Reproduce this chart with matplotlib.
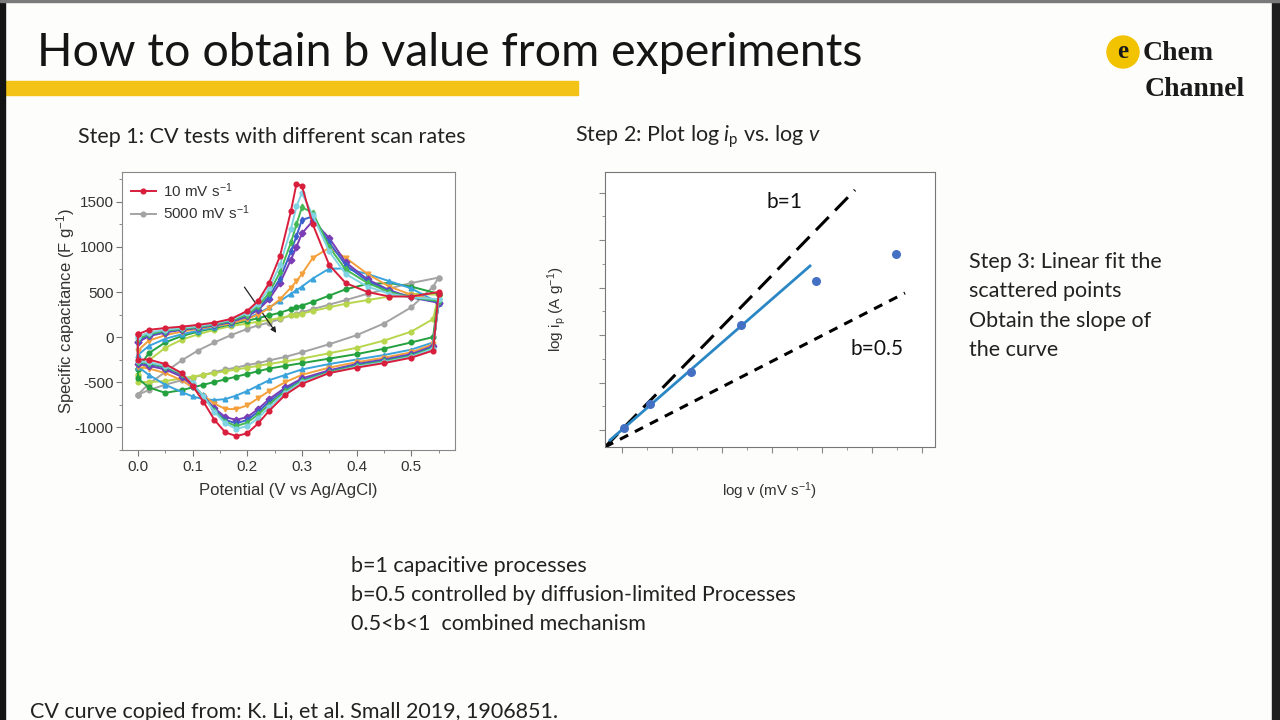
import numpy as np
import matplotlib.pyplot as plt
from matplotlib.patches import Rectangle, Ellipse
from matplotlib.ticker import MultipleLocator

plt.rcParams['mathtext.fontset'] = 'custom'
plt.rcParams['mathtext.rm'] = 'Lato'
plt.rcParams['mathtext.it'] = 'Lato:italic'
plt.rcParams['axes.unicode_minus'] = False

# ---------------- CV curves ----------------
E_fwd = [0.0, 0.02, 0.05, 0.08, 0.11, 0.14, 0.17, 0.20, 0.22, 0.24, 0.26,
         0.28, 0.29, 0.30, 0.32, 0.35, 0.38, 0.42, 0.46, 0.50, 0.55]
E_rev = [0.55, 0.54, 0.50, 0.45, 0.40, 0.35, 0.30, 0.27, 0.24, 0.22, 0.20,
         0.18, 0.16, 0.14, 0.12, 0.10, 0.08, 0.05, 0.02, 0.0]

cap_fwd = [
    [30, 80, 100, 115, 135, 160, 200, 290, 400, 600, 900, 1400, 1700, 1680, 1250, 800, 600, 500, 450, 450, 500],
    [0, 50, 80, 100, 120, 150, 190, 270, 370, 540, 800, 1200, 1450, 1600, 1350, 950, 700, 560, 480, 440, 420],
    [-20, 30, 70, 90, 110, 140, 180, 250, 340, 490, 720, 1050, 1250, 1440, 1380, 1000, 750, 600, 500, 440, 400],
    [-40, 20, 60, 85, 105, 135, 170, 240, 320, 450, 650, 950, 1120, 1300, 1340, 1050, 800, 620, 510, 440, 390],
    [-60, 10, 50, 80, 100, 130, 165, 230, 300, 420, 600, 860, 1000, 1150, 1290, 1100, 830, 640, 520, 440, 380],
    [-150, -40, 20, 60, 90, 120, 150, 200, 250, 320, 420, 550, 620, 700, 880, 990, 880, 700, 560, 470, 400],
    [-200, -100, -20, 30, 70, 110, 150, 210, 260, 330, 400, 480, 520, 560, 650, 760, 760, 700, 620, 540, 380],
    [-350, -180, -60, 10, 60, 100, 140, 180, 210, 240, 270, 310, 330, 350, 390, 460, 530, 590, 600, 560, 480],
    [-420, -260, -120, -30, 30, 80, 120, 150, 170, 190, 210, 240, 250, 260, 290, 330, 370, 410, 450, 480, 470],
    [-640, -520, -390, -260, -150, -60, 20, 90, 130, 160, 200, 240, 255, 275, 310, 360, 410, 480, 540, 600, 660],
]
cap_rev = [
    [480, -150, -230, -290, -340, -400, -520, -640, -820, -960, -1070, -1100, -1060, -920, -720, -540, -400, -300, -250, -250],
    [420, -130, -220, -280, -330, -400, -500, -620, -780, -900, -990, -1020, -960, -830, -660, -510, -400, -320, -280, -270],
    [400, -120, -210, -270, -320, -390, -490, -600, -750, -860, -950, -990, -940, -820, -660, -520, -410, -330, -290, -280],
    [390, -110, -200, -260, -310, -380, -480, -580, -720, -830, -920, -960, -920, -810, -660, -530, -420, -340, -300, -290],
    [380, -100, -190, -250, -300, -370, -460, -560, -690, -800, -890, -920, -890, -790, -660, -540, -440, -360, -320, -300],
    [400, -80, -170, -230, -280, -340, -420, -500, -600, -680, -760, -800, -800, -740, -650, -560, -480, -400, -350, -330],
    [380, -60, -140, -200, -250, -300, -360, -420, -480, -540, -600, -650, -690, -700, -690, -660, -610, -530, -420, -330],
    [480, 0, -60, -130, -190, -240, -290, -320, -350, -380, -410, -440, -470, -500, -530, -560, -590, -620, -560, -460],
    [470, 200, 60, -40, -120, -180, -240, -270, -300, -320, -340, -360, -380, -400, -420, -440, -460, -490, -500, -500],
    [660, 560, 330, 150, 20, -80, -170, -220, -260, -290, -310, -340, -360, -390, -420, -450, -480, -530, -590, -640],
]
cv_colors = ['#d81e3c', '#7fd3e3', '#45b955', '#3d5fcc', '#7b3db4',
             '#f4a03c', '#3aa3dc', '#23a13e', '#b7d64c', '#a3a3a3']
cv_markers = ['o', 'o', 'd', 'd', 'D', 'v', '^', 'o', 'o', 'o']
cv_labels = ['10 mV s$\\mathregular{^{-1}}$', None, None, None, None,
             None, None, None, None, '5000 mV s$\\mathregular{^{-1}}$']

# ---------------- log ip vs log v sketch ----------------
logv = [0.19, 0.45, 0.86, 1.36, 2.11, 2.91]
logip = [0.19, 0.43, 0.75, 1.22, 1.66, 1.93]
b1_x, b1_y = [0.0, 2.5], [0.0, 2.57]
b05_x, b05_y = [0.0, 3.0], [0.0, 1.54]
fit_range = [0.05, 2.05]

step3_lines = ['Step 3: Linear fit the', 'scattered points', 'Obtain the slope of', 'the curve']
notes = ['b=1 capacitive processes',
         'b=0.5 controlled by diffusion-limited Processes',
         '0.5<b<1  combined mechanism']

W, H = 1280, 720
def fx(px):
    return px / W
def fy(py):
    return 1 - py / H

fig = plt.figure(figsize=(12.8, 7.2), dpi=100, facecolor='#fdfdfc')

# slide frame
fig.patches.append(Rectangle((0, 0), fx(5), 1, transform=fig.transFigure, color='#141414', zorder=5))
fig.patches.append(Rectangle((fx(1272), 0), fx(8), 1, transform=fig.transFigure, color='#1e1e1e', zorder=5))
fig.patches.append(Rectangle((0, fy(2)), 1, 2 / H, transform=fig.transFigure, color='#7a7a7a', zorder=5))

# title + yellow bar
fig.text(fx(37), fy(53), 'How to obtain b value from experiments', fontsize=33.5,
         family='Lato', color='#151515', va='center')
fig.patches.append(Rectangle((fx(5), fy(95)), fx(573), 14 / H, transform=fig.transFigure,
                             color='#f3c317', zorder=4))

# logo
fig.patches.append(Ellipse((fx(1123), fy(52)), 32 / W, 32 / H, transform=fig.transFigure,
                           color='#f2c300', zorder=4))
fig.text(fx(1123), fy(51), 'e', fontsize=18, family='Liberation Serif', weight='bold',
         ha='center', va='center', color='#1a1a1a', zorder=6)
fig.text(fx(1143), fy(53), 'Chem', fontsize=20, family='Liberation Serif', weight='bold',
         va='center', color='#1a1a1a')
fig.text(fx(1145), fy(89), 'Channel', fontsize=20, family='Liberation Serif', weight='bold',
         va='center', color='#1a1a1a')

body = dict(family='Lato', color='#222222', fontsize=15.5, va='center')
fig.text(fx(78), fy(137), 'Step 1: CV tests with different scan rates', **body)
fig.text(fx(575), fy(137), 'Step 2: Plot log $\\mathit{i}_{\\mathregular{p}}$ vs. log $\\mathit{v}$', **body)
for i, line in enumerate(step3_lines):
    fig.text(fx(969), fy(262 + 29.3 * i), line, **body)
for i, line in enumerate(notes):
    fig.text(fx(351), fy(566 + 29 * i), line, **body)
fig.text(fx(30), fy(712), 'CV curve copied from: K. Li, et al. Small 2019, 1906851.', **body)

# ---------------- CV panel ----------------
ax1 = fig.add_axes([fx(122), fy(450), (455 - 122) / W, (450 - 172) / H])
for k in range(len(cap_fwd)):
    xs = E_fwd + E_rev + [E_fwd[0]]
    ys = cap_fwd[k] + cap_rev[k] + [cap_fwd[k][0]]
    ax1.plot(xs, ys, color=cv_colors[k], marker=cv_markers[k], ms=3.4, lw=1.4,
             label=cv_labels[k], zorder=10 - k)
ax1.annotate('', xy=(0.256, 20), xytext=(0.192, 580),
             arrowprops=dict(arrowstyle='-|>', color='#222222', lw=0.9, mutation_scale=8))
ax1.set_xlim(-0.029, 0.58)
ax1.set_ylim(-1255, 1833)
ax1.xaxis.set_major_locator(MultipleLocator(0.1))
ax1.xaxis.set_minor_locator(MultipleLocator(0.05))
ax1.yaxis.set_major_locator(MultipleLocator(500))
ax1.yaxis.set_minor_locator(MultipleLocator(250))
ax1.tick_params(which='both', direction='out', color='#777777', labelcolor='#333333', labelsize=11)
ax1.tick_params(which='major', length=4)
ax1.tick_params(which='minor', length=2)
ax1.tick_params(axis='y', pad=2)
for lab in ax1.get_xticklabels() + ax1.get_yticklabels():
    lab.set_family('Liberation Sans')
for s in ax1.spines.values():
    s.set_color('#888888')
ax1.set_xlabel('Potential (V vs Ag/AgCl)', family='Liberation Sans', fontsize=12, color='#333333', labelpad=6)
ax1.set_ylabel('Specific capacitance (F g$\\mathregular{^{-1}}$)', family='Liberation Sans',
               fontsize=12, color='#333333')
ax1.yaxis.set_label_coords(-0.135, 0.5)
leg = ax1.legend(loc='upper left', frameon=False, prop={'family': 'Liberation Sans', 'size': 11},
                 handlelength=1.6, borderaxespad=0.2, labelspacing=0.25, handletextpad=0.5)
for t in leg.get_texts():
    t.set_color('#333333')

# ---------------- log ip vs log v panel ----------------
ax2 = fig.add_axes([fx(605), fy(447), 330 / W, 275 / H])
ax2.plot(b1_x, b1_y, color='black', lw=2.2, dashes=(6, 3))
ax2.plot(b05_x, b05_y, color='black', lw=2.2, dashes=(3, 2.5))
slope, icpt = np.polyfit(logv[:4], logip[:4], 1)
fit_x = np.array(fit_range)
ax2.plot(fit_x, slope * fit_x + icpt, color='#2a86c4', lw=2)
ax2.scatter(logv, logip, s=30, color='#4470c4', zorder=5)
ax2.text(1.8, 2.45, 'b=1', fontsize=15, family='Lato', ha='center', va='center', color='#111111')
ax2.text(2.72, 0.98, 'b=0.5', fontsize=15, family='Lato', ha='center', va='center', color='#111111')
ax2.set_xlim(0, 3.3)
ax2.set_ylim(0, 2.75)
ax2.set_xticks(np.arange(0.17, 3.3, 0.5))
ax2.set_xticks(np.arange(0.42, 3.3, 0.5), minor=True)
ax2.set_yticks(np.arange(0.17, 2.7, 0.475))
ax2.set_yticks(np.arange(0.41, 2.7, 0.475), minor=True)
ax2.tick_params(which='both', direction='out', color='#888888', labelbottom=False, labelleft=False)
ax2.tick_params(which='major', length=4)
ax2.tick_params(which='minor', length=2)
for s in ax2.spines.values():
    s.set_color('#777777')
ax2.set_xlabel('log v (mV s$\\mathregular{^{-1}}$)', family='Liberation Sans', fontsize=11,
               color='#333333', labelpad=20)
ax2.set_ylabel('log i$\\mathregular{_p}$ (A g$\\mathregular{^{-1}}$)', family='Liberation Sans',
               fontsize=11, color='#333333', labelpad=23)

fig.savefig('out.png', dpi=100, facecolor=fig.get_facecolor())
